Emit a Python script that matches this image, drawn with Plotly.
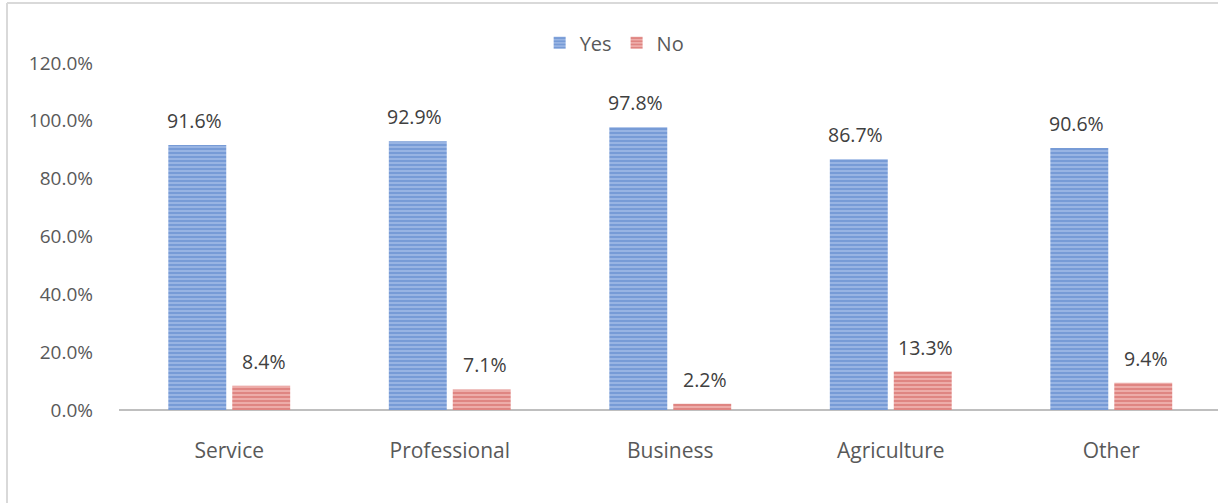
import plotly.graph_objects as go

categories = ["Service", "Professional", "Business", "Agriculture", "Other"]
yes_values = [91.6, 92.9, 97.8, 86.7, 90.6]
no_values = [8.4, 7.1, 2.2, 13.3, 9.4]
y_ticks = [0, 20, 40, 60, 80, 100, 120]

FONT = "'Open Sans', Lato, sans-serif"
TEXT_COLOR = "#595959"
LABEL_COLOR = "#404040"

fig = go.Figure()
fig.add_trace(go.Bar(
    name="Yes", x=categories, y=yes_values,
    marker=dict(color="#a9c2ea", line=dict(width=0),
                pattern=dict(shape="-", fgcolor="#4674c2", size=4, solidity=0.68)),
))
fig.add_trace(go.Bar(
    name="No", x=categories, y=no_values,
    marker=dict(color="#f2bcba", line=dict(width=0),
                pattern=dict(shape="-", fgcolor="#cc4d4a", size=4, solidity=0.65)),
))

# value labels placed above each bar
annotations = []
for vals, shift in ((yes_values, -35), (no_values, 35)):
    for cat, v in zip(categories, vals):
        annotations.append(dict(
            x=cat, y=v, xref="x", yref="y", text=f"{v:.1f}%",
            showarrow=False, xanchor="center", yanchor="bottom",
            xshift=shift, yshift=9,
            font=dict(size=19.5, color=LABEL_COLOR, family=FONT),
        ))

FRAME_X = (7 - 119) / 1099
FRAME_TOP = (410 - 3) / 347

fig.update_layout(
    width=1218, height=503,
    margin=dict(l=119, r=0, t=63, b=93),
    paper_bgcolor="white", plot_bgcolor="white",
    barmode="group", bargap=0.42, bargroupgap=0.094,
    font=dict(family=FONT, size=19, color=TEXT_COLOR),
    showlegend=True,
    legend=dict(orientation="h", x=0.451, xanchor="center", y=1.058, yanchor="middle",
                font=dict(size=20, color=TEXT_COLOR), itemwidth=30,
                bgcolor="rgba(0,0,0,0)"),
    xaxis=dict(range=[-0.5, 4.484], showgrid=False, zeroline=False,
               showline=False, ticks="", ticklabelstandoff=26,
               tickfont=dict(size=21, color=TEXT_COLOR)),
    yaxis=dict(range=[0, 120], tickvals=y_ticks,
               ticktext=[f"{v:.1f}%" for v in y_ticks],
               showgrid=False, zeroline=True, zerolinecolor="#bfbfbf", zerolinewidth=2,
               showline=False, ticks="", ticklabelstandoff=25,
               tickfont=dict(size=19, color=TEXT_COLOR)),
    annotations=annotations,
    shapes=[
        # chart frame: left and top edges
        dict(type="line", xref="paper", yref="paper",
             x0=FRAME_X, x1=FRAME_X, y0=-0.3, y1=FRAME_TOP,
             line=dict(color="#d9d9d9", width=2), layer="below"),
        dict(type="line", xref="paper", yref="paper",
             x0=FRAME_X, x1=1.2, y0=FRAME_TOP, y1=FRAME_TOP,
             line=dict(color="#d9d9d9", width=2), layer="below"),
    ],
)

# keep the page free of margins and scrollbars
fig.write_html(
    "out.html",
    post_script=(
        "document.body.style.margin='0';"
        "document.documentElement.style.overflow='hidden';"
        "document.body.style.overflow='hidden';"
    ),
)
